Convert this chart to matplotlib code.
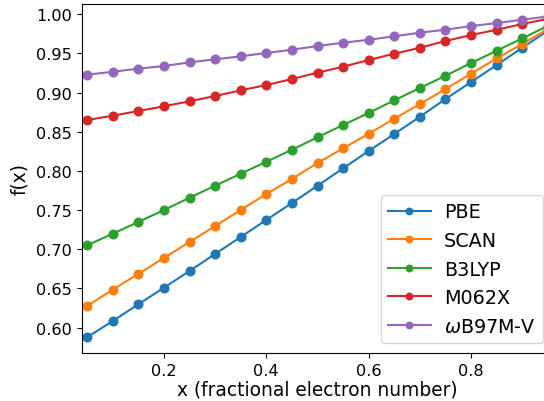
import matplotlib
matplotlib.use("Agg")
import matplotlib.pyplot as plt

x = [0.05, 0.10, 0.15, 0.20, 0.25, 0.30, 0.35, 0.40, 0.45, 0.50,
     0.55, 0.60, 0.65, 0.70, 0.75, 0.80, 0.85, 0.90, 0.95]

pbe = [0.5878, 0.6085, 0.6298, 0.6510, 0.6723, 0.6940, 0.7157, 0.7374, 0.7590, 0.7811,
       0.8033, 0.8254, 0.8471, 0.8691, 0.8917, 0.9134, 0.9351, 0.9571, 0.9790]
scan = [0.6277, 0.6485, 0.6686, 0.6890, 0.7093, 0.7297, 0.7501, 0.7705, 0.7897, 0.8101,
        0.8288, 0.8474, 0.8666, 0.8853, 0.9045, 0.9240, 0.9436, 0.9619, 0.9810]
b3lyp = [0.7051, 0.7199, 0.7348, 0.7501, 0.7658, 0.7811, 0.7964, 0.8117, 0.8270, 0.8429,
         0.8585, 0.8739, 0.8901, 0.9057, 0.9214, 0.9376, 0.9533, 0.9691, 0.9850]
m062x = [0.8649, 0.8704, 0.8764, 0.8824, 0.8888, 0.8955, 0.9028, 0.9095, 0.9172, 0.9253,
         0.9329, 0.9415, 0.9495, 0.9571, 0.9657, 0.9733, 0.9801, 0.9874, 0.9940]
wb97mv = [0.9227, 0.9265, 0.9304, 0.9338, 0.9385, 0.9423, 0.9462, 0.9504, 0.9546, 0.9593,
          0.9635, 0.9673, 0.9717, 0.9763, 0.9801, 0.9848, 0.9886, 0.9929, 0.9970]

series = [("PBE", pbe), ("SCAN", scan), ("B3LYP", b3lyp),
          ("M062X", m062x), (r"$\omega$B97M-V", wb97mv)]

xticks = [0.2, 0.4, 0.6, 0.8]
yticks = [0.60, 0.65, 0.70, 0.75, 0.80, 0.85, 0.90, 0.95, 1.00]

fig = plt.figure(figsize=(5.44, 4.02), dpi=100)
ax = fig.add_axes([82 / 544, 48 / 402, 471 / 544, 349.3 / 402])

for label, vals in series:
    ax.plot(x, vals, marker="o", markersize=6.2, linewidth=1.5, label=label)

ax.set_xlim(0.04, 0.96)
ax.set_ylim(0.5677, 1.0133)
ax.set_xticks(xticks)
ax.set_xticklabels([f"{t:.1f}" for t in xticks])
ax.set_yticks(yticks)
ax.set_yticklabels([f"{t:.2f}" for t in yticks])
ax.tick_params(labelsize=11.6)
ax.set_xlabel("x (fractional electron number)", fontsize=13.4, labelpad=1)
ax.set_ylabel("f(x)", fontsize=13.4, labelpad=5)
ax.legend(loc="lower right", fontsize=13.8, handlelength=2.2, handletextpad=0.7,
          markerscale=0.75)

fig.savefig("out.png", dpi=100)
